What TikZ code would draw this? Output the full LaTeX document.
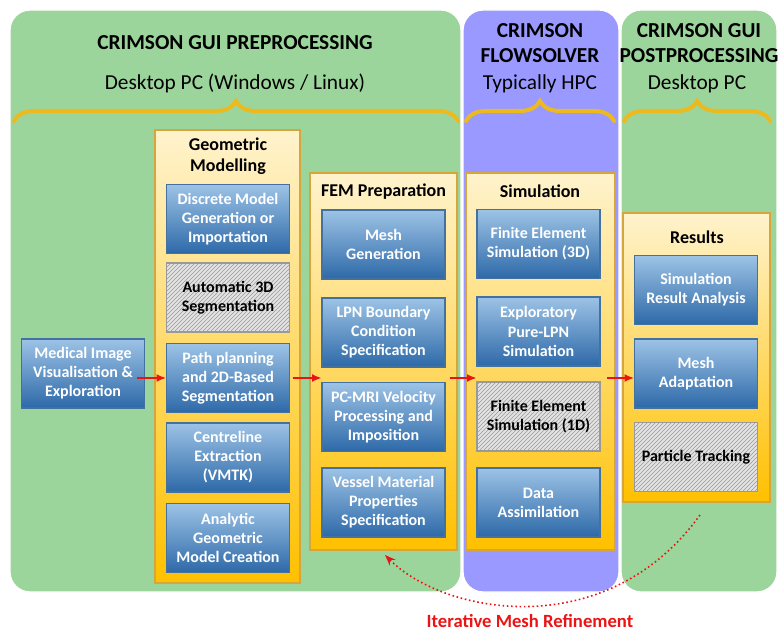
\documentclass[tikz,border=0pt]{standalone}
\usepackage{fontspec}
\setmainfont{Carlito}
\usetikzlibrary{arrows.meta,patterns,decorations.pathreplacing}

\definecolor{panelgreen}{RGB}{155,213,155}
\definecolor{panelblue}{RGB}{153,153,255}
\definecolor{boxtop}{RGB}{157,195,230}
\definecolor{boxbot}{RGB}{45,105,168}
\definecolor{boxline}{RGB}{68,114,160}
\definecolor{conttop}{RGB}{255,243,205}
\definecolor{contbot}{RGB}{255,192,0}
\definecolor{contline}{RGB}{214,166,60}
\definecolor{bracegold}{RGB}{236,186,30}
\definecolor{arrowred}{RGB}{235,20,20}

\begin{document}
\begin{tikzpicture}[x=0.75pt,y=-0.75pt,
	panel/.style={rounded corners=15pt,draw=white,line width=1pt},
	cont/.style={draw=contline,line width=1.2pt,top color=conttop,bottom color=contbot,inner sep=0pt},
	tbox/.style={line width=0.8pt,minimum width=92.25pt,minimum height=51.75pt,inner sep=0pt,
		align=center,font=\bfseries\fontsize{12}{14.3}\selectfont},
	task/.style={tbox,draw=boxline,top color=boxtop,bottom color=boxbot,text=white},
	todo/.style={tbox,draw=gray!80,text=black,preaction={fill=gray!22},
		pattern=north east lines,pattern color=gray!80},
	head/.style={align=center,font=\bfseries\fontsize{13.5}{16}\selectfont},
	title/.style={align=center,font=\bfseries\fontsize{16}{19}\selectfont},
	sub/.style={font=\fontsize{16}{19}\selectfont},
	gbrace/.style={decorate,decoration={brace,amplitude=15pt},draw=bracegold,line width=3pt,line cap=round},
	flow/.style={draw=arrowred,line width=1.2pt,-{Latex[length=7pt,width=6pt]}},
	refine/.style={draw=arrowred,line width=1.2pt,dotted,-{Stealth[length=8pt,width=6pt]}}]

	\useasboundingbox (0,0) rectangle (778,634);

	% panels
	\filldraw[panel,fill=panelgreen] (10,10) rectangle (461,592);
	\filldraw[panel,fill=panelblue] (463,10) rectangle (619,592);
	\filldraw[panel,fill=panelgreen] (621,10) rectangle (777,592);

	\node[title] (pretitle) at (235,43) {CRIMSON GUI PREPROCESSING};
	\node[sub] (presub) at (235,83) {Desktop PC (Windows / Linux)};
	\node[title] (flowtitle) at (540,43) {CRIMSON\\FLOWSOLVER};
	\node[sub] (flowsub) at (540,84) {Typically HPC};
	\node[title] (posttitle) at (699,43) {CRIMSON GUI\\POSTPROCESSING};
	\node[sub] (postsub) at (697,84) {Desktop PC};

	\draw[gbrace] (14,121) -- (458,121);
	\draw[gbrace] (466,121) -- (614,121);
	\draw[gbrace] (624,121) -- (770,121);

	% stage containers
	\node[cont,minimum width=108.75pt,minimum height=339.75pt] (geo) at (227.5,356.5) {};
	\node[cont,minimum width=110.25pt,minimum height=282.75pt] (fem) at (383.5,361.5) {};
	\node[cont,minimum width=111.75pt,minimum height=282.75pt] (sim) at (540.5,361.5) {};
	\node[cont,minimum width=110.25pt,minimum height=216.75pt] (res) at (696.5,357.5) {};

	\node[head] (geohead) at (228,156) {Geometric\\Modelling};
	\node[head] (femhead) at (383.5,192) {FEM Preparation};
	\node[head] (simhead) at (540,191) {Simulation};
	\node[head] (reshead) at (697,237) {Results};

	\node[task] (medical) at (83,373.5) {Medical Image\\Visualisation \&\\Exploration};

	\node[task] (discrete) at (228,219) {Discrete Model\\Generation or\\Importation};
	\node[todo] (autoseg) at (228,297.5) {Automatic 3D\\Segmentation};
	\node[task] (pathseg) at (228,378) {Path planning\\and 2D-Based\\Segmentation};
	\node[task] (centre) at (228,457.5) {Centreline\\Extraction\\(VMTK)};
	\node[task] (analytic) at (228,538) {Analytic\\Geometric\\Model Creation};

	\node[task] (mesh) at (383.5,244.5) {Mesh\\Generation};
	\node[task] (lpn) at (383.5,332.5) {LPN Boundary\\Condition\\Specification};
	\node[task] (pcmri) at (383.5,417) {PC-MRI Velocity\\Processing and\\Imposition};
	\node[task] (vessel) at (383.5,502.5) {Vessel Material\\Properties\\Specification};

	\node[task] (fe3d) at (538.5,244) {Finite Element\\Simulation (3D)};
	\node[task] (purelpn) at (538.5,331.5) {Exploratory\\Pure-LPN\\Simulation};
	\node[todo] (fe1d) at (538.5,416.5) {Finite Element\\Simulation (1D)};
	\node[task] (assim) at (538.5,502.5) {Data\\Assimilation};

	\node[task] (analysis) at (696,290) {Simulation\\Result Analysis};
	\node[task] (adapt) at (696,373.5) {Mesh\\Adaptation};
	\node[todo] (particle) at (696,457) {Particle Tracking};

	% workflow arrows
	\draw[flow] ([xshift=-6pt]medical.east |- pathseg.west) -- (pathseg.west);
	\draw[flow] ([xshift=2pt]pathseg.east) -- (pathseg.east -| lpn.west);
	\draw[flow] ([xshift=3pt]lpn.east |- pathseg.east) -- (pathseg.east -| fe3d.west);
	\draw[flow] ([xshift=5pt]fe3d.east |- pathseg.east) -- (pathseg.east -| analysis.west);

	\coordinate (loopstart) at (700,515);
	\coordinate (loopend) at (385,555);
	\draw[refine] (loopstart) .. controls (607,644) and (445,615) .. (loopend);
	\node[text=arrowred,font=\bfseries\fontsize{14}{17}\selectfont] (refinelabel) at (530,621) {Iterative Mesh Refinement};

\end{tikzpicture}
\end{document}
